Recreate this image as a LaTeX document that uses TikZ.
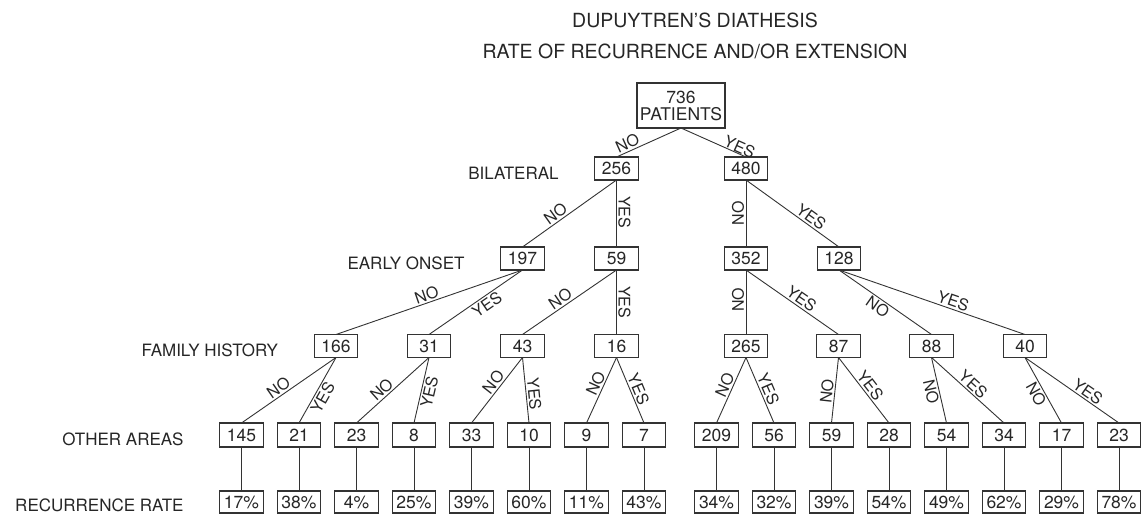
\documentclass[tikz,border=0pt]{standalone}
\usepackage{fontspec}
\setmainfont{TeX Gyre Heros}
\usepackage{tikz}
\usetikzlibrary{positioning}

\tikzset{
  box/.style={draw=black!80, line width=1.1pt, minimum width=43.5pt, minimum height=23pt,
    inner sep=0pt, outer sep=0pt, text=black!85, font=\fontsize{17.5}{17}\selectfont},
  rate/.style={box, minimum height=22pt},
  row/.style={inner sep=0pt, text=black!85, font=\fontsize{17}{18}\selectfont},
  head/.style={inner sep=0pt, text=black!85, font=\fontsize{19.5}{21}\selectfont},
  tag/.style={inner sep=1.5pt, text=black!85, font=\fontsize{16}{16}\selectfont, sloped},
  vtag/.style={inner sep=1.5pt, text=black!85, font=\fontsize{16}{16}\selectfont},
  edge/.style={draw=black!80, line width=0.9pt},
}

\begin{document}
\begin{tikzpicture}[x=1pt, y=-1pt]
  \useasboundingbox (0,0) rectangle (1143,517);

  % title
  \node[head, anchor=base] (head) at (695,27) {DUPUYTREN'S DIATHESIS};
  \node[head, anchor=base] (subhead) at (695,58) {RATE OF RECURRENCE AND/OR EXTENSION};

  % tree
  \node[box, minimum width=88pt, minimum height=45pt, align=center] (p) at (681,105.5) {736\\PATIENTS};
  \node[box] (n) at (616.5,168.5) {256};
  \node[box] (y) at (746,168.5) {480};
  \node[box] (nn) at (522.5,258.5) {197};
  \node[box] (ny) at (616.5,258.5) {59};
  \node[box] (yn) at (746,258.5) {352};
  \node[box] (yy) at (839,258.5) {128};
  \node[box] (nnn) at (336,346) {166};
  \node[box] (nny) at (429,346) {31};
  \node[box] (nyn) at (522.5,346) {43};
  \node[box] (nyy) at (616.5,346) {16};
  \node[box] (ynn) at (746,346) {265};
  \node[box] (yny) at (838.5,346) {87};
  \node[box] (yyn) at (931.5,346) {88};
  \node[box] (yyy) at (1025,346) {40};

  % other areas
  \node[box, minimum height=24pt] (nnnn) at (241.5,435) {145};
  \node[box, minimum height=24pt, right=14pt of nnnn] (nnny) {21};
  \node[box, minimum height=24pt, right=14pt of nnny] (nnyn) {23};
  \node[box, minimum height=24pt, right=14pt of nnyn] (nnyy) {8};
  \node[box, minimum height=24pt, right=14pt of nnyy] (nynn) {33};
  \node[box, minimum height=24pt, right=14pt of nynn] (nyny) {10};
  \node[box, minimum height=24pt, right=14pt of nyny] (nyyn) {9};
  \node[box, minimum height=24pt, right=14pt of nyyn] (nyyy) {7};
  \node[box, minimum height=24pt, right=29pt of nyyy] (ynnn) {209};
  \node[box, minimum height=24pt, right=14pt of ynnn] (ynny) {56};
  \node[box, minimum height=24pt, right=14pt of ynny] (ynyn) {59};
  \node[box, minimum height=24pt, right=14pt of ynyn] (ynyy) {28};
  \node[box, minimum height=24pt, right=14pt of ynyy] (yynn) {54};
  \node[box, minimum height=24pt, right=14pt of yynn] (yyny) {34};
  \node[box, minimum height=24pt, right=14pt of yyny] (yyyn) {17};
  \node[box, minimum height=24pt, right=14pt of yyyn] (yyyy) {23};

  % recurrence rates
  \node[rate, below=44pt of nnnn] (rnnnn) {17\%};
  \node[rate, below=44pt of nnny] (rnnny) {38\%};
  \node[rate, below=44pt of nnyn] (rnnyn) {4\%};
  \node[rate, below=44pt of nnyy] (rnnyy) {25\%};
  \node[rate, below=44pt of nynn] (rnynn) {39\%};
  \node[rate, below=44pt of nyny] (rnyny) {60\%};
  \node[rate, below=44pt of nyyn] (rnyyn) {11\%};
  \node[rate, below=44pt of nyyy] (rnyyy) {43\%};
  \node[rate, below=44pt of ynnn] (rynnn) {34\%};
  \node[rate, below=44pt of ynny] (rynny) {32\%};
  \node[rate, below=44pt of ynyn] (rynyn) {39\%};
  \node[rate, below=44pt of ynyy] (rynyy) {54\%};
  \node[rate, below=44pt of yynn] (ryynn) {49\%};
  \node[rate, below=44pt of yyny] (ryyny) {62\%};
  \node[rate, below=44pt of yyyn] (ryyyn) {29\%};
  \node[rate, below=44pt of yyyy] (ryyyy) {78\%};

  % row labels
  \node[row, left=36pt of n, yshift=-5pt] (bilateral) {BILATERAL};
  \node[row, left=36pt of nn, yshift=-5pt] (onset) {EARLY ONSET};
  \node[row, left=36pt of nnn, yshift=-4pt] (family) {FAMILY HISTORY};
  \node[row, left=36pt of nnnn, yshift=-4pt] (areas) {OTHER AREAS};
  \node[row, left=36pt of rnnnn, yshift=-3pt] (rrate) {RECURRENCE RATE};

  % branches
  \draw[edge] (p.south) -- node[tag, pos=.78, above] {NO} (n.north);
  \draw[edge] (p.south) -- node[tag, pos=.86, above, inner sep=0pt] {YES} (y.north);
  \draw[edge] (n.south) -- node[tag, pos=.6, above] {NO} (nn.north);
  \draw[edge] (n.south) -- node[vtag, pos=.48, rotate=-90, above] {YES} (ny.north);
  \draw[edge] (y.south) -- node[vtag, pos=.5, rotate=90, above] {NO} (yn.north);
  \draw[edge] (y.south) -- node[tag, pos=.65, above] {YES} (yy.north);
  \draw[edge] (nn.south) -- node[tag, pos=.5, above] {NO} (nnn.north);
  \draw[edge] (nn.south) -- node[tag, pos=.43, below] {YES} (nny.north);
  \draw[edge] (ny.south) -- node[tag, pos=.55, above] {NO} (nyn.north);
  \draw[edge] (ny.south) -- node[vtag, pos=.5, rotate=-90, above] {YES} (nyy.north);
  \draw[edge] (yn.south) -- node[vtag, pos=.46, rotate=90, above] {NO} (ynn.north);
  \draw[edge] (yn.south) -- node[tag, pos=.55, above] {YES} (yny.north);
  \draw[edge] (yy.south) -- node[tag, pos=.47, below] {NO} (yyn.north);
  \draw[edge] (yy.south) -- node[tag, pos=.6, above] {YES} (yyy.north);
  \draw[edge] (nnn.south) -- node[tag, pos=.56, above] {NO} (nnnn.north);
  \draw[edge] (nnn.south) -- node[tag, pos=.55, below] {YES} (nnny.north);
  \draw[edge] (nny.south) -- node[tag, pos=.58, above] {NO} (nnyn.north);
  \draw[edge] (nny.south) -- node[tag, pos=.5, below] {YES} (nnyy.north);
  \draw[edge] (nyn.south) -- node[tag, pos=.45, above] {NO} (nynn.north);
  \draw[edge] (nyn.south) -- node[tag, pos=.57, above] {YES} (nyny.north);
  \draw[edge] (nyy.south) -- node[tag, pos=.45, above] {NO} (nyyn.north);
  \draw[edge] (nyy.south) -- node[tag, pos=.53, above] {YES} (nyyy.north);
  \draw[edge] (ynn.south) -- node[tag, pos=.47, above] {NO} (ynnn.north);
  \draw[edge] (ynn.south) -- node[tag, pos=.53, above] {YES} (ynny.north);
  \draw[edge] (yny.south) -- node[tag, pos=.53, above] {NO} (ynyn.north);
  \draw[edge] (yny.south) -- node[tag, pos=.5, above] {YES} (ynyy.north);
  \draw[edge] (yyn.south) -- node[tag, pos=.5, below] {NO} (yynn.north);
  \draw[edge] (yyn.south) -- node[tag, pos=.5, above] {YES} (yyny.north);
  \draw[edge] (yyy.south) -- node[tag, pos=.5, below] {NO} (yyyn.north);
  \draw[edge] (yyy.south) -- node[tag, pos=.62, above] {YES} (yyyy.north);

  % to the rates
  \draw[edge] (nnnn) -- (rnnnn);
  \draw[edge] (nnny) -- (rnnny);
  \draw[edge] (nnyn) -- (rnnyn);
  \draw[edge] (nnyy) -- (rnnyy);
  \draw[edge] (nynn) -- (rnynn);
  \draw[edge] (nyny) -- (rnyny);
  \draw[edge] (nyyn) -- (rnyyn);
  \draw[edge] (nyyy) -- (rnyyy);
  \draw[edge] (ynnn) -- (rynnn);
  \draw[edge] (ynny) -- (rynny);
  \draw[edge] (ynyn) -- (rynyn);
  \draw[edge] (ynyy) -- (rynyy);
  \draw[edge] (yynn) -- (ryynn);
  \draw[edge] (yyny) -- (ryyny);
  \draw[edge] (yyyn) -- (ryyyn);
  \draw[edge] (yyyy) -- (ryyyy);
\end{tikzpicture}
\end{document}
